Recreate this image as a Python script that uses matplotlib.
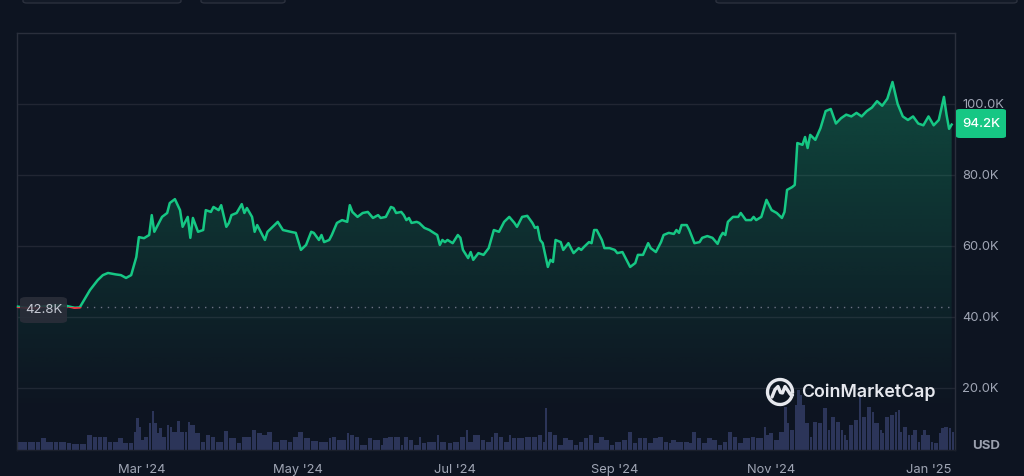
import numpy as np
import matplotlib
matplotlib.use("Agg")
import matplotlib.pyplot as plt
import matplotlib.dates as mdates
from matplotlib.patches import FancyBboxPatch, Rectangle, Polygon, Arc
from matplotlib.lines import Line2D

# ---------------- data ----------------
start_date = "2024-01-13"
price_days = [
    0, 3, 7, 10, 16, 19, 22, 24, 28, 31,
    33, 35, 38, 40, 42, 44, 46, 47, 49, 51,
    52, 53, 56, 58, 59, 61, 63, 64, 66, 67,
    68, 70, 72, 73, 75, 76, 78, 79, 81, 82,
    83, 85, 87, 88, 89, 91, 92, 93, 95, 96,
    97, 99, 101, 103, 106, 108, 110, 112, 114, 115,
    117, 118, 119, 121, 122, 124, 126, 128, 129, 130,
    132, 134, 136, 138, 140, 141, 143, 145, 146, 147,
    149, 150, 151, 152, 153, 155, 156, 158, 160, 161,
    163, 164, 165, 166, 167, 169, 171, 172, 173, 175,
    176, 177, 179, 181, 183, 185, 187, 189, 191, 193,
    194, 196, 198, 200, 201, 202, 203, 204, 206, 207,
    208, 209, 211, 212, 214, 216, 218, 219, 220, 222,
    223, 224, 225, 227, 228, 230, 232, 233, 235, 236,
    238, 240, 241, 243, 245, 246, 248, 250, 251, 253,
    255, 256, 257, 258, 260, 261, 263, 265, 266, 268,
    270, 272, 273, 274, 275, 276, 278, 280, 281, 283,
    285, 286, 287, 289, 291, 293, 295, 297, 298, 299,
    301, 302, 303, 305, 306, 307, 308, 310, 312, 314,
    316, 318, 320, 322, 324, 326, 328, 330, 332, 334,
    336, 338, 340, 342, 344, 346, 348, 350, 352, 354,
    356, 358, 360, 361, 362, 363,
]
price_k = [
    42.9, 42.6, 42.5, 43.0, 43.3, 43.1, 42.6, 42.7, 47.6, 50.4,
    51.8, 52.4, 52.0, 51.8, 51.0, 51.8, 56.9, 62.5, 62.2, 63.1,
    68.7, 64.0, 68.2, 69.3, 72.1, 73.2, 70.1, 65.4, 68.2, 62.3,
    67.9, 64.0, 64.5, 70.1, 69.6, 71.0, 70.1, 71.5, 65.4, 66.5,
    68.7, 69.3, 71.8, 69.3, 70.7, 68.2, 64.0, 65.9, 63.1, 61.7,
    64.0, 65.4, 66.8, 64.5, 64.0, 63.7, 58.9, 60.3, 64.0, 63.7,
    61.7, 63.1, 61.1, 61.7, 63.1, 66.5, 67.3, 66.8, 71.5, 69.6,
    68.2, 69.3, 69.6, 67.9, 68.7, 67.9, 68.2, 71.0, 70.7, 69.3,
    69.6, 68.7, 67.3, 67.9, 66.5, 66.8, 66.5, 65.1, 64.5, 64.0,
    63.1, 60.3, 61.7, 61.1, 61.7, 60.8, 63.1, 62.3, 58.9, 56.6,
    58.3, 56.1, 58.0, 57.5, 59.4, 64.5, 64.0, 66.8, 68.2, 66.5,
    65.4, 68.2, 68.5, 66.5, 65.1, 65.4, 61.7, 60.8, 54.1, 56.1,
    55.5, 61.7, 61.1, 58.9, 60.8, 58.0, 59.4, 58.9, 59.7, 61.1,
    60.8, 64.5, 64.5, 61.7, 59.4, 59.4, 58.9, 58.0, 58.3, 56.9,
    54.1, 55.2, 57.5, 57.5, 60.8, 59.4, 58.3, 61.1, 63.1, 63.7,
    63.4, 64.5, 63.7, 65.9, 65.9, 64.5, 60.8, 61.1, 62.3, 62.8,
    62.3, 60.6, 62.5, 63.7, 63.1, 66.8, 68.2, 68.2, 69.3, 67.3,
    67.3, 68.2, 67.3, 68.2, 73.0, 70.1, 69.3, 67.9, 69.6, 75.8,
    76.6, 77.2, 89.0, 88.5, 90.7, 87.6, 91.3, 89.9, 93.2, 98.0,
    98.6, 94.5, 96.0, 97.0, 96.5, 97.5, 96.5, 98.0, 99.0, 100.8,
    99.5, 101.5, 106.2, 100.0, 96.5, 95.5, 96.5, 94.5, 94.0, 96.5,
    94.0, 95.5, 102.0, 97.0, 93.0, 94.2,
]
volume_days = [
    0, 4, 7, 9, 11, 14, 16, 19, 21, 24,
    27, 29, 31, 33, 35, 37, 39, 41, 43, 45,
    46, 47, 48, 49, 51, 52, 53, 54, 55, 56,
    58, 59, 60, 62, 63, 65, 66, 67, 69, 71,
    73, 75, 77, 80, 82, 85, 87, 91, 93, 95,
    97, 99, 102, 105, 107, 109, 111, 114, 117, 121,
    122, 124, 128, 129, 131, 133, 136, 138, 141, 142,
    144, 146, 149, 150, 152, 154, 156, 157, 159, 163,
    164, 167, 169, 172, 174, 175, 177, 180, 182, 184,
    185, 187, 189, 191, 192, 194, 197, 200, 202, 204,
    205, 206, 208, 210, 212, 214, 216, 218, 220, 222,
    224, 226, 228, 230, 232, 235, 237, 239, 241, 243,
    245, 247, 249, 251, 253, 254, 256, 259, 261, 262,
    264, 266, 268, 270, 272, 274, 276, 278, 280, 282,
    285, 287, 290, 291, 292, 294, 296, 298, 299, 300,
    302, 303, 304, 305, 306, 308, 309, 311, 313, 315,
    316, 318, 320, 321, 322, 323, 325, 327, 328, 330,
    332, 333, 335, 336, 337, 339, 341, 342, 343, 344,
    346, 347, 348, 350, 351, 352, 353, 355, 356, 358,
    359, 360, 362, 363,
]
volume_bn = [
    16, 16, 16, 24, 16, 16, 16, 14, 12, 12,
    30, 26, 26, 26, 16, 16, 24, 14, 14, 36,
    64, 46, 20, 26, 54, 78, 54, 34, 44, 26,
    50, 46, 36, 58, 36, 36, 56, 50, 34, 16,
    30, 26, 16, 38, 24, 14, 26, 40, 34, 30,
    36, 16, 20, 16, 26, 36, 24, 18, 16, 24,
    26, 20, 34, 30, 26, 10, 24, 20, 10, 24,
    26, 26, 10, 26, 20, 10, 26, 14, 16, 30,
    16, 14, 16, 26, 40, 16, 30, 20, 16, 26,
    34, 26, 16, 30, 24, 24, 26, 26, 30, 16,
    84, 36, 30, 10, 24, 20, 10, 16, 24, 30,
    14, 26, 20, 10, 16, 20, 36, 14, 24, 24,
    14, 24, 26, 16, 14, 20, 16, 16, 14, 36,
    24, 14, 24, 20, 10, 16, 36, 26, 14, 24,
    26, 24, 46, 30, 34, 20, 36, 86, 54, 40,
    90, 120, 110, 90, 54, 26, 56, 54, 84, 40,
    66, 56, 40, 30, 20, 50, 60, 106, 66, 86,
    76, 54, 40, 34, 66, 70, 76, 80, 36, 46,
    30, 30, 40, 16, 30, 40, 30, 16, 14, 34,
    44, 46, 44, 36,
]
tick_dates = ["2024-03-01", "2024-05-01", "2024-07-01", "2024-09-01", "2024-11-01", "2025-01-01"]
tick_labels = ["Mar '24", "May '24", "Jul '24", "Sep '24", "Nov '24", "Jan '25"]
ytick_values = [20, 40, 60, 80, 100]
ytick_labels = ["20.0K", "40.0K", "60.0K", "80.0K", "100.0K"]
open_price_k = 42.8
open_label = "42.8K"
last_label = "94.2K"
currency_label = "USD"
brand_label = "CoinMarketCap"

# ---------------- style ----------------
BG = "#0d1421"
GREEN = "#16c784"
RED = "#ea3943"
GRID = "#212633"
FRAME = "#2a2f3c"
TXT = "#a0a6b5"
VOL = "#2c3559"
LOGO = "#e6e8ee"
FONT = ["Inter", "DejaVu Sans"]
plt.rcParams["font.family"] = FONT

W, H = 1024, 476
fig = plt.figure(figsize=(W / 100, H / 100), dpi=100, facecolor=BG)

def fx(px):
    return px / W

def fy(py):
    return 1 - py / H

rect = [fx(17), fy(450), fx(955) - fx(17), fy(33) - fy(450)]

base = mdates.date2num(np.datetime64(start_date))
px_day = np.asarray(price_days, dtype=float) + base
pk = np.asarray(price_k, dtype=float)
vx = np.asarray(volume_days, dtype=float) + base
vb = np.asarray(volume_bn, dtype=float)
xlo, xhi = base - 0.39, base + 364.3
ylo, yhi = 2.535, 120.0

# volume axes (behind)
axv = fig.add_axes(rect)
axv.set_facecolor(BG)
widths = np.diff(np.append(vx, vx[-1] + 1.0))
axv.bar(vx, vb, width=widths * 0.86, align="edge", color=VOL, linewidth=0)
axv.set_xlim(xlo, xhi)
axv.set_ylim(0, 834)
axv.axis("off")

# price axes
ax = fig.add_axes(rect)
ax.set_facecolor("none")
ax.set_xlim(xlo, xhi)
ax.set_ylim(ylo, yhi)

# gradient fill under the line
verts = np.column_stack([np.r_[px_day, px_day[::-1]], np.r_[pk, np.full_like(pk, ylo)]])
clip_poly = Polygon(verts, closed=True, facecolor="none", edgecolor="none", transform=ax.transData)
ax.add_patch(clip_poly)
n = 256
levels = np.linspace(ylo, yhi, n)
alpha = np.clip((levels - 12.0) / (108.0 - 12.0), 0, 1) ** 1.1 * 0.30
img = np.zeros((n, 2, 4))
img[..., 0] = 22 / 255
img[..., 1] = 199 / 255
img[..., 2] = 132 / 255
img[..., 3] = alpha[:, None]
im = ax.imshow(img, extent=[xlo, xhi, ylo, yhi], origin="lower", aspect="auto",
               interpolation="bilinear", zorder=2)
im.set_clip_path(clip_poly)

# price line (green above the opening price, red below)
above = Rectangle((xlo - 10, open_price_k), (xhi - xlo) + 20, 500, transform=ax.transData)
below = Rectangle((xlo - 10, -500), (xhi - xlo) + 20, 500 + open_price_k, transform=ax.transData)
lg, = ax.plot(px_day, pk, color=GREEN, lw=1.8, zorder=4, solid_joinstyle="round")
lg.set_clip_path(above)
lr, = ax.plot(px_day, pk, color=RED, lw=1.8, zorder=4, solid_joinstyle="round")
lr.set_clip_path(below)

# opening-price dotted reference
ax.axhline(open_price_k, color="#6b7283", lw=1.0, ls=(0, (1, 4)), zorder=3)

ax.set_xlim(xlo, xhi)
ax.set_ylim(ylo, yhi)

# grid, ticks
ax.set_yticks(ytick_values)
ax.set_yticklabels(ytick_labels)
ax.yaxis.tick_right()
ax.grid(axis="y", color=GRID, lw=1.0, zorder=0)
ax.set_xticks([mdates.date2num(np.datetime64(d)) for d in tick_dates])
ax.set_xticklabels(tick_labels)
ax.tick_params(axis="both", length=0, colors=TXT, labelsize=9.3)
ax.tick_params(axis="y", pad=5)
ax.tick_params(axis="x", pad=10)
for s in ax.spines.values():
    s.set_color(FRAME)
    s.set_linewidth(1.0)
ax.spines["bottom"].set_color("#1a1f2b")

# last price badge
fig.patches.append(FancyBboxPatch((fx(956), fy(138)), fx(1006) - fx(956), fy(109) - fy(138),
                                  boxstyle="round,pad=0,rounding_size=0.004",
                                  transform=fig.transFigure, facecolor=GREEN, edgecolor="none", zorder=5))
fig.text(fx(981), fy(124), last_label, color="white", fontsize=9.5, ha="center", va="center",
         fontweight="medium", zorder=6)

# opening price badge
fig.patches.append(FancyBboxPatch((fx(20), fy(323)), fx(67) - fx(20), fy(297) - fy(323),
                                  boxstyle="round,pad=0,rounding_size=0.006",
                                  transform=fig.transFigure, facecolor="#2a2e39", alpha=0.9,
                                  edgecolor="none", zorder=5))
fig.text(fx(43.5), fy(310), open_label, color="#c4c8d2", fontsize=9.5, ha="center", va="center", zorder=6)

# currency label
fig.text(fx(986), fy(446), currency_label, color="#9aa0ae", fontsize=9.5, ha="center", va="center",
         fontweight="bold")

# watermark logo (circle with an "M" wave)
cx, cy, r = 780, 392, 12.5
fig.patches.append(Arc((fx(cx), fy(cy)), 2 * fx(r), 2 * (fy(0) - fy(r)), theta1=-15, theta2=345 - 20,
                       transform=fig.transFigure, color=LOGO, lw=2.4, zorder=6))
wx = np.array([-8.0, -5.0, -2.0, 0.5, 2.5, 5.0, 7.5, 10.5, 12.5])
wy = np.array([5.0, -2.5, -5.5, 0.5, 1.0, -5.5, -2.0, 2.5, 3.0])
fig.lines.append(Line2D(fx(cx + wx), fy(cy + wy), transform=fig.transFigure, color=LOGO, lw=2.4,
                        solid_joinstyle="round", solid_capstyle="round", zorder=7))
fig.text(fx(801), fy(392), brand_label, color=LOGO, fontsize=12.8, fontweight="semibold",
         ha="left", va="center", zorder=7)

# partial UI controls at top edge
for (a, b) in [(23, 181), (201, 285), (716, 1017)]:
    fig.patches.append(FancyBboxPatch((fx(a), fy(3)), fx(b) - fx(a), fy(-20) - fy(3),
                                      boxstyle="round,pad=0,rounding_size=0.004",
                                      transform=fig.transFigure, facecolor="#131a27",
                                      edgecolor="#2b303d", lw=1.0, zorder=1))

fig.savefig("out.png", dpi=100, facecolor=BG)
